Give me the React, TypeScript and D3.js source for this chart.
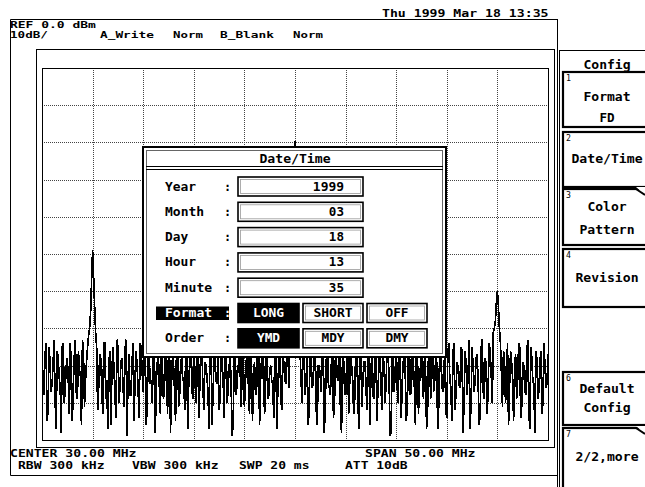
import * as d3 from "d3";

const FONT = "'DejaVu Sans Mono', 'Liberation Mono', monospace";

// sweep settings
const startMHz = 5;
const stopMHz = 55;
const refLevel = 0;
const bottomLevel = -100;
const stepMHz = 0.1;

// trace A, dBm, samples at 5.0, 5.2, ... 55.0 MHz
const traceEven: number[] = [
  -76, -88, -74, -92, -79, -85, -73, -97, -78, -86, -75, -90, -80, -84, -74, -95, -77, -88, -76, -83, -73, -91, -79, -72, -66,
  -49, -64, -75, -86, -78, -93, -74, -84, -80, -96, -75, -87, -73, -90, -79, -85, -76, -99, -77, -88, -74, -83, -80, -94, -75,
  -87, -73, -91, -78, -84, -76, -98, -79, -86, -74, -89, -77, -93, -75, -85, -80, -95, -73, -88, -78, -83, -76, -97, -79, -86,
  -74, -90, -77, -85, -75, -92, -80, -87, -73, -96, -78, -84, -76, -89, -79, -94, -74, -86, -77, -99, -75, -88, -80, -83, -76,
  -91, -78, -86, -74, -95, -79, -87, -75, -84, -77, -93, -73, -88, -80, -85, -76, -97, -78, -89, -74, -84, -72, -86, -66, -52,
  -19.5, -50, -67, -84, -71, -88, -75, -92, -78, -85, -74, -96, -80, -87, -76, -90, -73, -86, -79, -94, -77, -84, -75, -98, -78,
  -88, -74, -85, -80, -93, -76, -87, -73, -91, -79, -84, -77, -96, -75, -89, -78, -86, -74, -92, -80, -85, -76, -99, -77, -87,
  -73, -90, -79, -84, -75, -95, -78, -88, -76, -86, -74, -93, -80, -85, -77, -97, -75, -89, -73, -84, -79, -91, -76, -87, -78,
  -94, -74, -86, -77, -92, -79, -85, -75, -98, -76, -88, -73, -90, -80, -84, -77, -96, -75, -87, -78, -93, -74, -83, -71, -68,
  -60, -70, -82, -76, -90, -74, -86, -79, -95, -77, -84, -75, -91, -80, -88, -73, -97, -78, -85, -76, -89, -79, -93, -74, -86,
  -77,
];

// trace A, dBm, samples at 5.1, 5.3, ... 54.9 MHz
const traceOdd: number[] = [
  -84, -77, -95, -75, -87, -79, -90, -76, -83, -98, -74, -86, -78, -93, -80, -85, -73, -89, -81, -96, -77, -84, -75, -70, -57,
  -56, -71, -92, -77, -85, -74, -89, -97, -76, -83, -80, -94, -75, -86, -78, -91, -73, -84, -88, -79, -95, -76, -87, -74, -82,
  -78, -96, -75, -85, -90, -73, -84, -77, -93, -80, -86, -75, -82, -98, -77, -87, -74, -91, -79, -84, -92, -76, -85, -73, -89,
  -81, -77, -94, -74, -86, -79, -83, -97, -75, -88, -78, -85, -92, -76, -84, -73, -90, -80, -87, -95, -77, -83, -74, -91, -79,
  -85, -74, -93, -79, -82, -88, -76, -96, -78, -86, -75, -89, -81, -84, -94, -73, -87, -77, -92, -80, -85, -76, -74, -60, -32,
  -31, -60, -76, -90, -79, -84, -96, -74, -86, -77, -92, -80, -83, -75, -98, -78, -85, -88, -73, -91, -79, -84, -94, -76, -87,
  -80, -93, -75, -84, -89, -77, -97, -74, -85, -79, -92, -76, -83, -88, -73, -95, -80, -86, -77, -90, -75, -84, -98, -78, -82,
  -86, -76, -94, -79, -83, -91, -74, -87, -80, -96, -77, -85, -73, -89, -81, -93, -76, -84, -87, -78, -97, -75, -85, -79, -92,
  -77, -84, -95, -74, -88, -80, -86, -76, -91, -79, -83, -97, -75, -87, -78, -85, -93, -73, -89, -80, -84, -77, -90, -70, -63,
  -64, -74, -91, -78, -85, -96, -76, -83, -80, -89, -74, -94, -79, -86, -77, -92, -75, -84, -98, -78, -87, -76, -90, -80, -85,
];

const dateRowLabels = ["Year", "Month", "Day", "Hour", "Minute"];
const dateRowValues = ["1999", "03", "18", "13", "35"];
const formatOptions = ["LONG", "SHORT", "OFF"];
const orderOptions = ["YMD", "MDY", "DMY"];

const softkeys = [
  { n: "1", top: 72, h: 55, lines: ["Format", "FD"], base: [101, 122], notch: false },
  { n: "2", top: 132, h: 55, lines: ["Date/Time"], base: [163], notch: false },
  { n: "3", top: 189, h: 56, lines: ["Color", "Pattern"], base: [211, 234], notch: true },
  { n: "4", top: 249, h: 58, lines: ["Revision"], base: [282], notch: false },
  { n: "6", top: 372, h: 53, lines: ["Default", "Config"], base: [393, 412], notch: false },
  { n: "7", top: 428, h: 70, lines: ["2/2,more"], base: [461], notch: true },
];

function T(props: {
  x: number;
  y: number;
  s: string;
  cw?: number;
  size?: number;
  anchor?: string;
  fill?: string;
  weight?: number;
}) {
  const { x, y, s, cw = 8, size = 11.5, anchor = "start", fill = "#000", weight = 700 } = props;
  return (
    <text
      x={x}
      y={y}
      fontFamily={FONT}
      fontSize={size}
      fontWeight={weight}
      fill={fill}
      textAnchor={anchor as any}
      textLength={s.length * cw - (cw - size * 0.62)}
      lengthAdjust="spacingAndGlyphs"
      style={{ whiteSpace: "pre" }}
    >
      {s}
    </text>
  );
}

export default function App() {
  const grat = { x0: 42, x1: 548, y0: 68, y1: 440 };
  const x = d3.scaleLinear().domain([startMHz, stopMHz]).range([grat.x0, grat.x1]);
  const y = d3.scaleLinear().domain([bottomLevel, refLevel]).range([grat.y1, grat.y0]);

  // merge both sample lists into sweep order
  const trace: number[] = [];
  traceEven.forEach((v, i) => {
    trace.push(v);
    if (i < traceOdd.length) trace.push(traceOdd[i]);
  });

  const line = d3
    .line<number>()
    .x((_, i) => x(startMHz + i * stepMHz))
    .y((d) => y(d));

  const xTicks = d3.range(startMHz, stopMHz + 0.01, 5);
  const yTicks = d3.range(bottomLevel, refLevel + 0.01, 10);

  const rowY = (i: number) => 186.5 + i * 25.3;
  const optX = [238, 303, 367];
  const optW = [61, 60, 60];

  return (
    <svg
      width={645}
      height={487}
      style={{ position: "absolute", left: 0, top: 0, background: "#fff" }}
    >
      <rect x={0} y={0} width={645} height={487} fill="#fff" />

      {/* header */}
      <T x={382} y={17} s="Thu 1999 Mar 18 13:35" size={10.5} />
      <T x={10} y={27.5} s="REF 0.0 dBm" size={9.5} />
      <T x={10} y={38} s="10dB/" size={9.5} />
      <T x={100} y={38} s="A_Write" size={9.5} />
      <T x={173} y={38} s="Norm" size={9.5} />
      <T x={220} y={38} s="B_Blank" size={9.5} />
      <T x={293} y={38} s="Norm" size={9.5} />

      {/* outer frame */}
      <path d="M10.5,19.5 H557.5 M10.5,19.5 V475.5 H557.5" stroke="#000" fill="none" />
      <line x1={557.5} y1={19} x2={557.5} y2={487} stroke="#000" />
      <rect x={36.5} y={49.5} width={518} height={398} fill="none" stroke="#000" />

      {/* graticule */}
      <g>
        {xTicks.slice(1, -1).map((t) => (
          <line
            key={"gx" + t}
            x1={Math.round(x(t)) + 0.5}
            x2={Math.round(x(t)) + 0.5}
            y1={grat.y0}
            y2={grat.y1}
            stroke="#444"
            strokeDasharray="1 1"
          />
        ))}
        {yTicks.slice(1, -1).map((t) => (
          <line
            key={"gy" + t}
            y1={Math.round(y(t)) + 0.5}
            y2={Math.round(y(t)) + 0.5}
            x1={grat.x0}
            x2={grat.x1}
            stroke="#444"
            strokeDasharray="1 1"
          />
        ))}
        <rect
          x={grat.x0 + 0.5}
          y={grat.y0 + 0.5}
          width={grat.x1 - grat.x0}
          height={grat.y1 - grat.y0}
          fill="none"
          stroke="#000"
        />
      </g>

      <defs>
        <clipPath id="gratClip">
          <rect x={grat.x0} y={grat.y0} width={grat.x1 - grat.x0} height={grat.y1 - grat.y0} />
        </clipPath>
      </defs>
      <path
        d={line(trace) || ""}
        fill="none"
        stroke="#000"
        strokeWidth={1.7}
        shapeRendering="crispEdges"
        clipPath="url(#gratClip)"
      />

      {/* Date/Time dialog */}
      <g>
        <rect x={143} y={147} width={303} height={210} fill="#fff" stroke="#000" strokeWidth={2} />
        <rect x={146.5} y={150.5} width={296} height={203} fill="none" stroke="#666" />
        <line x1={146} x2={443} y1={166.5} y2={166.5} stroke="#000" />
        <line x1={146} x2={443} y1={169.5} y2={169.5} stroke="#000" />
        <T x={295} y={163} s="Date/Time" anchor="middle" />

        {dateRowLabels.map((lab, i) => (
          <g key={lab}>
            <T x={165} y={rowY(i) + 4} s={lab} />
            <T x={224} y={rowY(i) + 4} s=":" />
            <rect x={238} y={rowY(i) - 9.5} width={125} height={19} fill="#fff" stroke="#000" strokeWidth={1.6} />
            <rect x={240.5} y={rowY(i) - 7} width={120} height={14} fill="none" stroke="#999" strokeWidth={0.8} />
            <T x={344} y={rowY(i) + 4} s={dateRowValues[i]} anchor="end" />
          </g>
        ))}

        <rect x={156} y={306.5} width={73} height={13.5} fill="#000" />
        <T x={165} y={rowY(5) + 4} s="Format" fill="#fff" />
        <T x={224} y={rowY(5) + 4} s=":" fill="#fff" />
        <T x={165} y={rowY(6) + 4} s="Order" />
        <T x={224} y={rowY(6) + 4} s=":" />

        {[formatOptions, orderOptions].map((opts, r) =>
          opts.map((o, j) => {
            const cy = rowY(5 + r);
            const sel = j === 0;
            return (
              <g key={o}>
                <rect
                  x={optX[j]}
                  y={cy - 9.5}
                  width={optW[j]}
                  height={19}
                  fill={sel ? "#000" : "#fff"}
                  stroke="#000"
                  strokeWidth={1.6}
                />
                {!sel && (
                  <rect x={optX[j] + 2.5} y={cy - 7} width={optW[j] - 5} height={14} fill="none" stroke="#999" strokeWidth={0.8} />
                )}
                <T x={optX[j] + optW[j] / 2} y={cy + 4} s={o} anchor="middle" fill={sel ? "#fff" : "#000"} />
              </g>
            );
          })
        )}
      </g>

      {/* footer */}
      <T x={10} y={457} s="CENTER 30.00 MHz" size={10.5} />
      <T x={365} y={457} s="SPAN 50.00 MHz" size={10.5} />
      <T x={18} y={469} s="RBW 300 kHz" size={10.5} />
      <T x={132} y={469} s="VBW 300 kHz" size={10.5} />
      <T x={239} y={469} s="SWP 20 ms" size={10.5} />
      <T x={345} y={469} s="ATT 10dB" size={10.5} />

      {/* softkey panel */}
      <line x1={559.5} y1={50} x2={559.5} y2={487} stroke="#000" />
      <line x1={559.5} y1={50.5} x2={645} y2={50.5} stroke="#000" />
      <T x={607} y={69} s="Config" anchor="middle" />
      {softkeys.map((k) => (
        <g key={k.n}>
          <rect x={563} y={k.top} width={90} height={k.h} fill="#fff" stroke="#000" strokeWidth={2.2} />
          {k.notch && (
            <g>
              <polygon points={`${636},${k.top - 2} ${646},${k.top - 2} ${646},${k.top + 7}`} fill="#fff" />
              <line x1={636} y1={k.top} x2={645} y2={k.top + 6} stroke="#000" strokeWidth={2} />
            </g>
          )}
          <T x={566} y={k.top + 9} s={k.n} size={8} cw={6} weight={400} />
          {k.lines.map((l, i) => (
            <T key={l} x={607} y={k.base[i]} s={l} anchor="middle" />
          ))}
        </g>
      ))}
    </svg>
  );
}
